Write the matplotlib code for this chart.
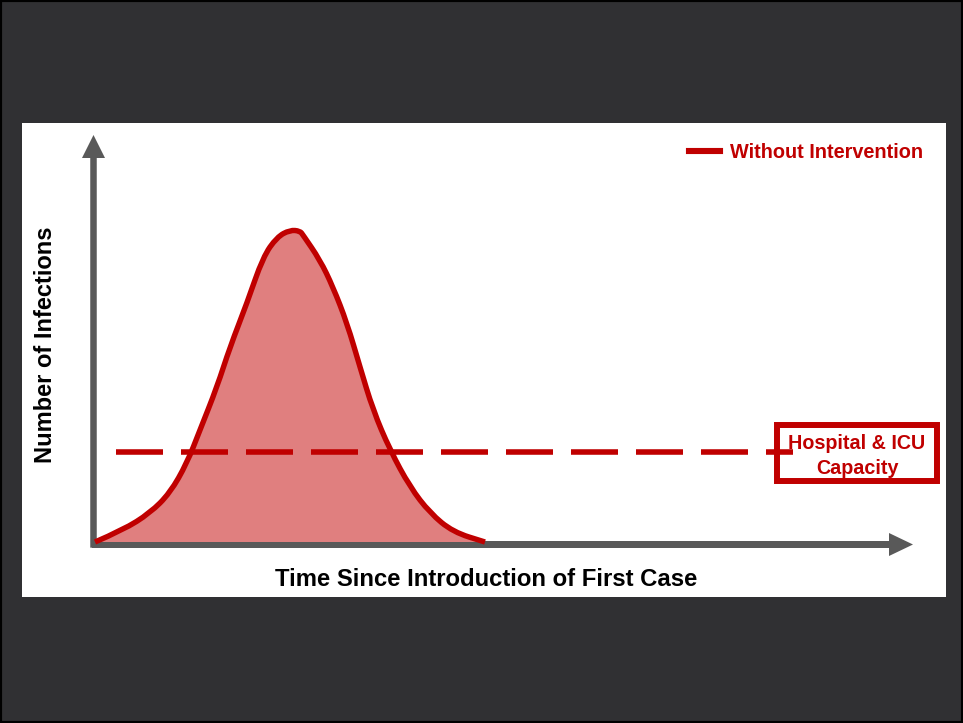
import matplotlib
matplotlib.use("Agg")
import matplotlib.pyplot as plt
from matplotlib.patches import FancyArrow, Rectangle, PathPatch
from matplotlib.path import Path
from matplotlib.lines import Line2D

# ---- data (chart units) ----
time = [0.0, 2.8, 5.5, 7.5, 9.2, 10.5, 12.2, 13.5, 15.2, 16.8, 18.2, 19.5, 20.5,
        20.8, 22.5, 23.8, 25.2, 26.5, 27.8, 29.5, 31.5, 33.5, 35.8, 39.0]
infections = [0.0, 1.2, 2.9, 4.9, 7.9, 11.2, 15.5, 19.5, 23.9, 28.5, 30.5, 31.2, 31.1,
              30.7, 28.2, 25.5, 21.9, 17.5, 13.2, 9.2, 5.5, 2.9, 1.0, 0.0]
capacity_level = 9.0
capacity_span = [2.1, 69.8]
series_label = "Without Intervention"
capacity_label = "Hospital & ICU\nCapacity"
x_label = "Time Since Introduction of First Case"
y_label = "Number of Infections"

RED = "#c00000"
FILL = "#e07f7f"
GREY = "#595959"

plt.rcParams['font.family'] = ['Liberation Sans', 'DejaVu Sans']

W, H = 963, 723
fig = plt.figure(figsize=(W / 100, H / 100), dpi=100)
fig.patch.set_facecolor("#303033")
fig.patches.append(Rectangle((0, 0), 1, 1, transform=fig.transFigure,
                             fill=False, edgecolor="black", linewidth=3))

L, R, T, B = 22, 946, 123, 597
ax = fig.add_axes([L / W, 1 - B / H, (R - L) / W, (B - T) / H])
ax.set_facecolor("white")
ax.set_xlim((L - 95) / 10, (R - 95) / 10)
ax.set_ylim((542 - B) / 10, (542 - T) / 10)
for s in ax.spines.values():
    s.set_visible(False)
ax.set_xticks([])
ax.set_yticks([])


def x2ax(px):
    return (px - L) / (R - L)


def y2ax(py):
    return (B - py) / (B - T)


# axes arrows
ax.add_patch(FancyArrow(-0.15, -0.57, 0, 40.7 + 0.57, width=0.65, head_width=2.3,
                        head_length=2.3, length_includes_head=True,
                        color=GREY, lw=0, zorder=2))
ax.add_patch(FancyArrow(-0.3, -0.25, 81.8 + 0.3, 0, width=0.7, head_width=2.3,
                        head_length=2.4, length_includes_head=True,
                        color=GREY, lw=0, zorder=2))

# smooth curve through the read points (quadratic Bezier rendering)
pts = list(zip(time, infections))
verts = [pts[0]]
codes = [Path.MOVETO]
for i in range(1, len(pts) - 1):
    mid = ((pts[i][0] + pts[i + 1][0]) / 2, (pts[i][1] + pts[i + 1][1]) / 2)
    verts += [pts[i], mid]
    codes += [Path.CURVE3, Path.CURVE3]
verts.append(pts[-1])
codes.append(Path.LINETO)
curve = Path(verts, codes)
fill_path = Path(verts + [(pts[-1][0], 0), (pts[0][0], 0), pts[0]],
                 codes + [Path.LINETO, Path.LINETO, Path.CLOSEPOLY])
ax.add_patch(PathPatch(fill_path, facecolor=FILL, lw=0, zorder=3))
ax.add_patch(PathPatch(curve, facecolor="none", edgecolor=RED, lw=3.9,
                       joinstyle='round', capstyle='butt', zorder=4))

# capacity line and box
ax.add_patch(Rectangle((68.2, 6.1), 16.0, 5.6, fill=True, facecolor="white",
                       edgecolor=RED, lw=4.3, zorder=6))
ax.plot(capacity_span, [capacity_level, capacity_level], color=RED, lw=4,
        ls=(0, (8.46, 3.24)), dash_capstyle='butt', zorder=7)
ax.text(76.2, 8.6, capacity_label, ha="center", va="center", color=RED,
        fontsize=14.2, fontweight="bold", linespacing=1.35, zorder=8)

# legend
handle = Line2D([], [], color=RED, lw=4.4)
ax.legend([handle], [series_label], loc="center right",
          bbox_to_anchor=(x2ax(923), y2ax(152)),
          frameon=False, handlelength=1.55, handletextpad=0.5,
          prop={"weight": "bold", "size": 14.3}, labelcolor=RED,
          borderaxespad=0, borderpad=0)

# axis labels
ax.text(39.1, -3.75, x_label, ha="center", va="center", fontsize=17.2,
        fontweight="bold", color="black")
ax.text(-5.0, 19.7, y_label, ha="center", va="center", rotation=90,
        fontsize=17, fontweight="bold", color="black")

fig.savefig("out.png", dpi=100, facecolor=fig.get_facecolor())
